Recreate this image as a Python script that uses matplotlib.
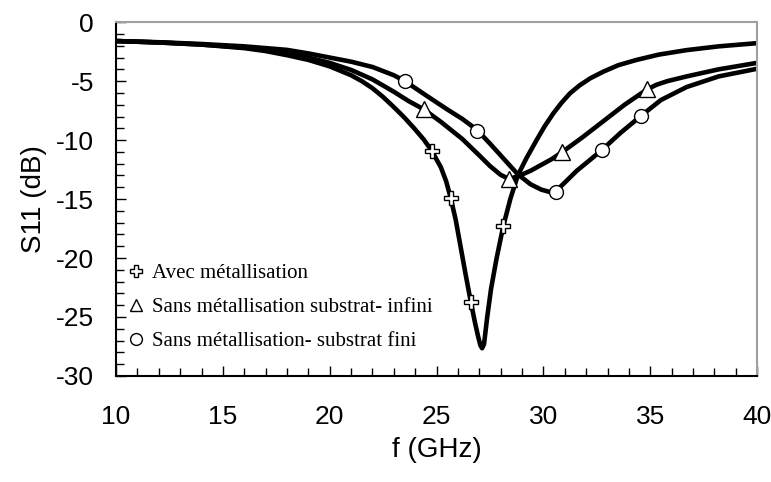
import matplotlib
matplotlib.use("Agg")
import matplotlib.pyplot as plt
from matplotlib.ticker import MultipleLocator

# --- donnees ---
# Avec metallisation
f_avec = [10, 12, 14, 16, 17, 18, 19, 20, 21, 21.5, 22, 22.5, 23, 23.5, 24, 24.4,
          24.77, 25.2, 25.45, 25.66, 25.9, 26.1, 26.35, 26.6, 26.8, 26.95, 27.05,
          27.13, 27.22, 27.37, 27.55, 27.8, 28.12, 28.45, 28.8, 29.2, 29.68,
          30.05, 30.46, 30.85, 31.24, 31.7, 32.2, 32.8, 33.5, 34.36, 35.4, 36.7,
          38.2, 40]
s_avec = [-1.6, -1.72, -1.9, -2.2, -2.45, -2.8, -3.2, -3.75, -4.5, -5.0, -5.6,
          -6.35, -7.2, -8.1, -9.1, -9.95, -10.9, -12.3, -13.5, -14.9, -16.8,
          -18.8, -21.3, -23.7, -25.5, -26.7, -27.4, -27.65, -27.3, -25.0, -22.6,
          -20.1, -17.3, -15.0, -13.0, -11.55, -10.0, -8.85, -7.74, -6.83, -6.04,
          -5.35, -4.75, -4.2, -3.65, -3.2, -2.75, -2.37, -2.05, -1.78]

# Sans metallisation, substrat infini
f_inf = [10, 12, 14, 16, 17, 18, 19, 20, 21, 22, 23, 23.7, 24.41, 25.2, 26.2,
         27.0, 27.5, 28.0, 28.4, 28.9, 29.4, 29.9, 30.4, 30.89, 31.8, 32.8, 33.8,
         34.85, 35.3, 35.8, 36.7, 38.2, 40]
s_inf = [-1.6, -1.72, -1.9, -2.15, -2.35, -2.65, -3.0, -3.45, -4.05, -4.85, -5.9,
         -6.7, -7.4, -8.45, -9.9, -11.3, -12.2, -12.95, -13.3, -13.0, -12.6,
         -12.1, -11.6, -11.0, -9.8, -8.4, -7.0, -5.7, -5.3, -5.0, -4.6, -4.0,
         -3.45]

# Sans metallisation, substrat fini
f_fini = [10, 12, 14, 16, 18, 19, 20, 21, 22, 23, 23.52, 24.5, 25.5, 26.2, 26.87,
          27.5, 28.2, 28.8, 29.4, 29.9, 30.3, 30.57, 31.0, 31.56, 32.1, 32.73,
          33.6, 34.57, 35.5, 36.7, 38.2, 40]
s_fini = [-1.6, -1.7, -1.85, -2.05, -2.35, -2.65, -3.0, -3.35, -3.8, -4.5, -5.0,
          -6.2, -7.4, -8.2, -9.1, -10.3, -11.7, -12.9, -13.75, -14.2, -14.4,
          -14.35, -13.6, -12.6, -11.8, -10.85, -9.4, -7.94, -6.6, -5.5, -4.6,
          -3.95]

# marqueurs
mf_avec = [24.77, 25.66, 26.6, 28.12]
ms_avec = [-10.9, -14.9, -23.7, -17.3]
mf_inf = [24.41, 28.40, 30.89, 34.85]
ms_inf = [-7.4, -13.33, -11.0, -5.7]
mf_fini = [23.52, 26.87, 30.57, 32.72, 34.57]
ms_fini = [-5.0, -9.2, -14.38, -10.85, -7.94]

labels = ["Avec métallisation",
          "Sans métallisation substrat- infini",
          "Sans métallisation- substrat fini"]


def main():
    plt.rcParams['font.family'] = ['Liberation Sans', 'DejaVu Sans']
    plt.rcParams['axes.unicode_minus'] = False

    fig = plt.figure(figsize=(7.71, 4.82), dpi=100)
    ax = fig.add_axes([0.1505, 0.22, 0.8315, 0.734])

    # courbes
    for f, s in [(f_avec, s_avec), (f_inf, s_inf), (f_fini, s_fini)]:
        ax.plot(f, s, '-', color='black', lw=3.3, solid_joinstyle='round',
                solid_capstyle='round', zorder=2)

    mk = dict(ls='none', mfc='white', mec='black', mew=1.0, zorder=3)
    ax.plot(mf_avec, ms_avec, marker='P', ms=10, label=labels[0], **mk)
    ax.plot(mf_inf, ms_inf, marker='^', ms=11, label=labels[1], **mk)
    ax.plot(mf_fini, ms_fini, marker='o', ms=10, label=labels[2], **mk)

    ax.set_xlim(10, 40)
    ax.set_ylim(-30, 0)
    ax.xaxis.set_major_locator(MultipleLocator(5))
    ax.xaxis.set_minor_locator(MultipleLocator(1))
    ax.yaxis.set_major_locator(MultipleLocator(5))
    ax.yaxis.set_minor_locator(MultipleLocator(1))

    ax.tick_params(which='both', direction='in', top=False, right=False,
                   labelsize=19, width=1, color='black')
    ax.tick_params(which='major', length=7)
    ax.tick_params(which='minor', length=6)
    ax.tick_params(axis='x', pad=21)
    ax.tick_params(axis='y', pad=16)

    for side in ['left', 'bottom']:
        ax.spines[side].set_color('black')
        ax.spines[side].set_linewidth(1.5)
    for side in ['top', 'right']:
        ax.spines[side].set_color('#a0a0a0')
        ax.spines[side].set_linewidth(1.5)

    ax.set_xlabel('f (GHz)', fontsize=20, labelpad=6)
    ax.set_ylabel('S11 (dB)', fontsize=20, labelpad=6)

    ax.legend(loc='lower left', bbox_to_anchor=(-0.015, 0.017), frameon=False,
              handlelength=1.0, handletextpad=0.3, labelspacing=0.69,
              borderaxespad=0.5, markerscale=0.85,
              prop={'family': 'Liberation Serif', 'size': 15})

    fig.savefig('out.png', dpi=100)


if __name__ == "__main__":
    main()
